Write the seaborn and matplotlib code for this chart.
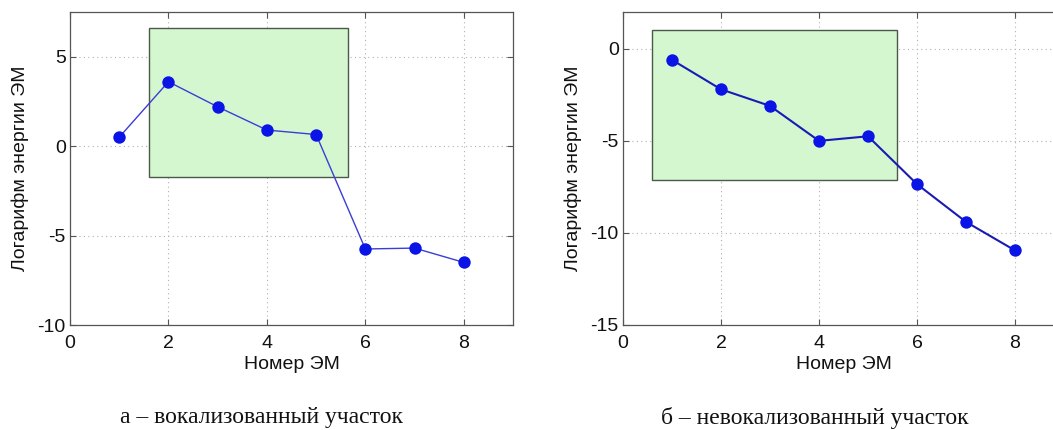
import matplotlib
matplotlib.use("Agg")
import matplotlib.pyplot as plt
import matplotlib.patches as mpatches
import seaborn as sns
import pandas as pd

# Data
em_number = [1, 2, 3, 4, 5, 6, 7, 8]
voiced_log_energy = [0.5, 3.6, 2.2, 0.9, 0.65, -5.75, -5.7, -6.5]
unvoiced_log_energy = [-0.6, -2.2, -3.1, -5.0, -4.75, -7.35, -9.4, -10.95]

# Highlighted region: (x0, x1, y0, y1)
voiced_box = (1.6, 5.65, -1.7, 6.6)
unvoiced_box = (0.6, 5.6, -7.1, 1.0)

x_label = "Номер ЭМ"
y_label = "Логарифм энергии ЭМ"
captions = ["а – вокализованный участок", "б – невокализованный участок"]

sns.set_theme(style="ticks")
plt.rcParams["font.family"] = ["Liberation Sans", "DejaVu Sans"]
plt.rcParams["axes.unicode_minus"] = False

W, H = 1053, 430
fig = plt.figure(figsize=(W / 100, H / 100), dpi=100)

def px_axes(l, r, t, b):
    return fig.add_axes([l / W, 1 - b / H, (r - l) / W, (b - t) / H])

ax1 = px_axes(70, 513, 12, 325)
ax2 = px_axes(623, 1064, 12, 325)

panels = [
    (ax1, voiced_log_energy, voiced_box, (-10, 7.5), [-10, -5, 0, 5], 1.0, "#3c3cd8"),
    (ax2, unvoiced_log_energy, unvoiced_box, (-15, 2), [-15, -10, -5, 0], 1.5, "#1a1ab4"),
]

for ax, yvals, box, ylim, yticks, lw, lcol in panels:
    df = pd.DataFrame({"x": em_number, "y": yvals})
    x0, x1, y0, y1 = box
    rect = mpatches.Rectangle((x0, y0), x1 - x0, y1 - y0, facecolor="#d4f7d0",
                              edgecolor="#4a5a4a", linewidth=1.0, zorder=1)
    ax.add_patch(rect)
    sns.lineplot(data=df, x="x", y="y", ax=ax, color=lcol, linewidth=lw,
                 zorder=3, legend=False)
    sns.scatterplot(data=df, x="x", y="y", ax=ax, color="#0a14e6", s=80,
                    edgecolor="#0a14e6", linewidth=0, zorder=4, legend=False)
    ax.set_xlim(0, 9)
    ax.set_ylim(*ylim)
    ax.set_xticks([0, 2, 4, 6, 8])
    ax.set_yticks(yticks)
    ax.grid(True, linestyle=(0, (1, 3)), color="#b0b0b0", linewidth=0.8, zorder=0)
    ax.set_axisbelow(True)
    ax.tick_params(direction="in", length=4, width=0.8, color="#555555",
                   top=True, right=True, labelsize=14, labelcolor="#111111")
    ax.tick_params(axis="x", pad=7)
    ax.tick_params(axis="y", pad=3)
    for s in ax.spines.values():
        s.set_color("#555555")
        s.set_linewidth(0.9)
    ax.set_xlabel(x_label, fontsize=14, color="#111111", labelpad=3)
    ax.set_ylabel(y_label, fontsize=14, color="#111111", labelpad=6)

fig.text(262 / W, 1 - 418 / H, captions[0], ha="center", va="center",
         fontsize=17, family=["Liberation Serif"], color="#111111")
fig.text(815 / W, 1 - 418 / H, captions[1], ha="center", va="center",
         fontsize=17, family=["Liberation Serif"], color="#111111")

fig.savefig("out.png", dpi=100)
